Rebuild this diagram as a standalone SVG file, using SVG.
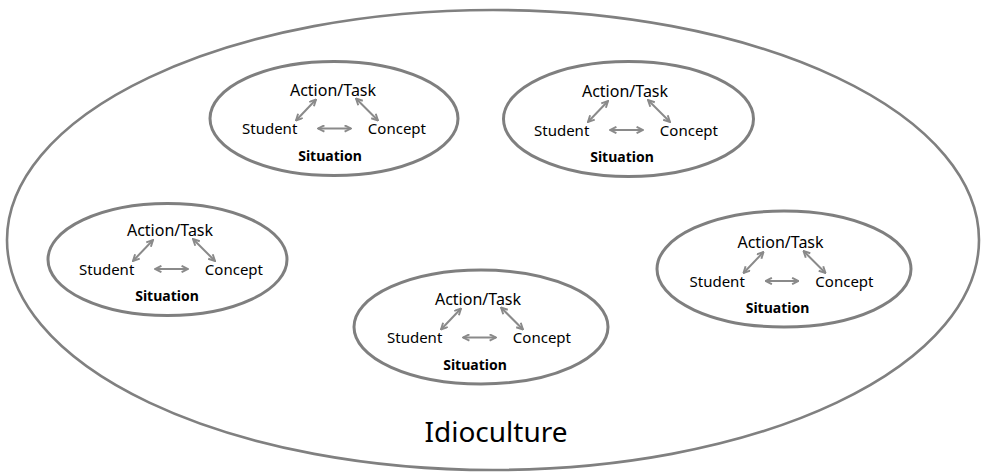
<svg xmlns="http://www.w3.org/2000/svg" width="987" height="474" viewBox="0 0 987 474">
<style>
.big{fill:none;stroke:#808080;stroke-width:2.6}
.sit{fill:#fff;stroke:#7f7f7f;stroke-width:3}
.t{font-family:"Noto Sans","Open Sans",sans-serif;fill:#000}
.at{font-size:16px;text-anchor:middle}
.sc{font-size:15px}
.s{font-size:14px;font-weight:bold;text-anchor:middle}
.idio{font-family:"Noto Sans","Open Sans",sans-serif;font-size:28px;text-anchor:middle;fill:#000}
.ar{fill:none;stroke:#8a8a8a;stroke-width:2;marker-start:url(#h);marker-end:url(#h)}
</style>
<defs>
<marker id="h" viewBox="0 0 10 10" refX="9" refY="5" markerUnits="userSpaceOnUse" markerWidth="8" markerHeight="8" orient="auto-start-reverse">
<path d="M1,1 L9,5 L1,9" fill="none" stroke="#8a8a8a" stroke-width="2.4"/>
</marker>
<g id="inner">
<text class="t at" x="-1" y="-23">Action/Task</text>
<text class="t sc" x="-92" y="15.5">Student</text>
<text class="t sc" x="92" y="15.5" text-anchor="end">Concept</text>
<text class="t s" x="-4" y="42">Situation</text>
</g>
</defs>
<g id="idioculture">
<ellipse class="big" cx="493" cy="240" rx="486" ry="230"/>
<text class="idio" x="496" y="442">Idioculture</text>
</g>
<g id="situation-top-left">
<ellipse class="sit" cx="334" cy="118.5" rx="124" ry="57"/>
<use href="#inner" x="334" y="118.5"/>
</g>
<g id="situation-top-right">
<ellipse class="sit" cx="628.5" cy="119" rx="125" ry="57.5"/>
<use href="#inner" x="626" y="120"/>
</g>
<g id="situation-left">
<ellipse class="sit" cx="167.5" cy="259.5" rx="119.5" ry="56"/>
<use href="#inner" x="171" y="259"/>
</g>
<g id="situation-bottom">
<ellipse class="sit" cx="481" cy="327" rx="127" ry="57"/>
<use href="#inner" x="479" y="327.5"/>
</g>
<g id="situation-right">
<ellipse class="sit" cx="784" cy="269" rx="127" ry="58"/>
<use href="#inner" x="781.5" y="271"/>
</g>
<g id="connectors">
<g transform="translate(334,118.5)"><path class="ar" d="M-38,2 L-18,-19"/><path class="ar" d="M22,-20 L44,2"/><path class="ar" d="M-16,10 L17,10"/></g>
<g transform="translate(626,120)"><path class="ar" d="M-38,2 L-18,-19"/><path class="ar" d="M22,-20 L44,2"/><path class="ar" d="M-16,10 L17,10"/></g>
<g transform="translate(171,259)"><path class="ar" d="M-38,2 L-18,-19"/><path class="ar" d="M22,-20 L44,2"/><path class="ar" d="M-16,10 L17,10"/></g>
<g transform="translate(479,327.5)"><path class="ar" d="M-38,2 L-18,-19"/><path class="ar" d="M22,-20 L44,2"/><path class="ar" d="M-16,10 L17,10"/></g>
<g transform="translate(781.5,271)"><path class="ar" d="M-38,2 L-18,-19"/><path class="ar" d="M22,-20 L44,2"/><path class="ar" d="M-16,10 L17,10"/></g>
</g>
</svg>
